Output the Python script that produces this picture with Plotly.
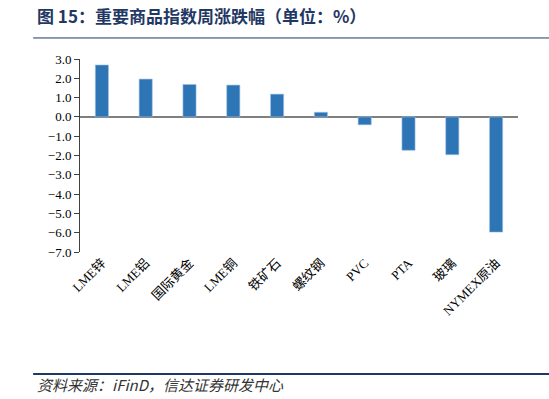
import plotly.graph_objects as go

categories = ["LME锌", "LME铝", "国际黄金", "LME铜", "铁矿石", "螺纹钢", "PVC", "PTA", "玻璃", "NYMEX原油"]
values = [2.69, 1.96, 1.68, 1.65, 1.18, 0.24, -0.41, -1.73, -1.96, -5.97]
y_ticks = [3, 2, 1, 0, -1, -2, -3, -4, -5, -6, -7]

title_text = "图 15：重要商品指数周涨跌幅（单位：%）"
source_text = "资料来源：iFinD，信达证券研发中心"

serif = "Liberation Serif, Times New Roman, Noto Sans CJK SC, serif"
navy = "#1F3864"

fig = go.Figure()
fig.add_trace(go.Bar(
    x=categories, y=values,
    marker=dict(color="#2E75B6", line=dict(color="#9DC3E6", width=0.6)),
    width=0.3,
))

fig.update_layout(
    width=549, height=399,
    margin=dict(l=80, r=31, t=59, b=147),
    paper_bgcolor="white", plot_bgcolor="white",
    showlegend=False,
    xaxis=dict(
        showline=False, ticks="", showgrid=False, zeroline=False,
        tickangle=-45,
        tickfont=dict(family=serif, size=13, color="black"),
    ),
    yaxis=dict(
        range=[-7, 3], tickvals=y_ticks, tickformat=".1f",
        showgrid=False,
        showline=True, linecolor="#404040", linewidth=1,
        ticks="outside", ticklen=5, tickcolor="#404040",
        zeroline=True, zerolinecolor="#7F7F7F", zerolinewidth=2,
        tickfont=dict(family=serif, size=13, color="black"),
    ),
    annotations=[
        dict(text="<b>" + title_text + "</b>", xref="paper", yref="paper",
             x=-0.103, y=1.226, xanchor="left", yanchor="middle", showarrow=False,
             font=dict(family="Noto Sans CJK SC", size=17, color=navy)),
        dict(text="<i>" + source_text + "</i>", xref="paper", yref="paper",
             x=-0.103, y=-0.684, xanchor="left", yanchor="middle", showarrow=False,
             font=dict(family="Noto Sans CJK SC", size=15, color="#333333")),
    ],
    shapes=[
        dict(type="line", xref="paper", yref="paper", x0=-0.107, x1=1.071, y0=1.109, y1=1.109,
             line=dict(color=navy, width=1)),
        dict(type="line", xref="paper", yref="paper", x0=-0.107, x1=1.071, y0=-0.632, y1=-0.632,
             line=dict(color=navy, width=2)),
    ],
)

fig.write_html("out.html", config={"displayModeBar": False},
               post_script="document.body.style.margin='0';")
